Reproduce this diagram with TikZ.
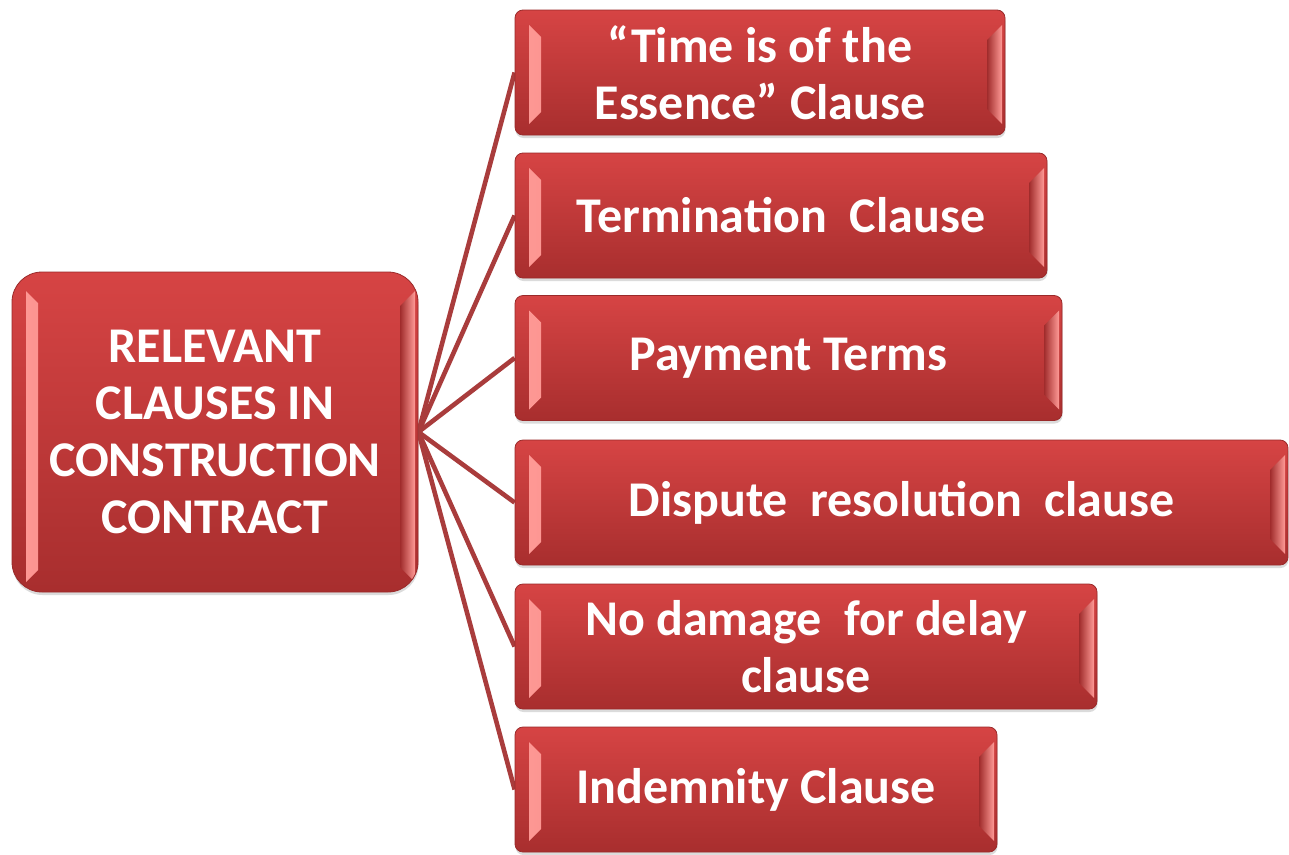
\documentclass[tikz,border=0pt]{standalone}
\usepackage{fontspec}
\setmainfont{Carlito}
\usetikzlibrary{calc,shadows,backgrounds}

\definecolor{boxtop}{HTML}{D64444}
\definecolor{boxbot}{HTML}{A82E2E}
\definecolor{boxedge}{HTML}{9A2A2A}
\definecolor{bevlight}{HTML}{FF9A96}
\definecolor{bevdark}{HTML}{A02C2C}
\definecolor{linkred}{HTML}{A93C3C}

% Bevel highlights on the left and right inner edges of a box.
% #1 left inset, #2 left width, #3 right inset, #4 right width, #5 top inset, #6 bottom inset
\newcommand\boxbevels[6]{%
  \path[sharp corners, left color=bevlight, right color=boxtop!70!boxbot]
    ($(path picture bounding box.north west)+(#1,-#5)$)
    -- ++(#2,-#2)
    -- ($(path picture bounding box.south west)+(#1+#2,#6+#2)$)
    -- ($(path picture bounding box.south west)+(#1,#6)$) -- cycle;
  \path[sharp corners, left color=bevdark, right color=bevlight]
    ($(path picture bounding box.north east)+(-#3-#4,-#5-#4)$)
    -- ($(path picture bounding box.north east)+(-#3,-#5)$)
    -- ($(path picture bounding box.south east)+(-#3,#6)$)
    -- ($(path picture bounding box.south east)+(-#3-#4,#6+#4)$) -- cycle;
}

\tikzset{
  redbox/.style={draw=boxedge, line width=0.8pt,
    top color=boxtop, bottom color=boxbot,
    text=white, align=center, inner sep=0pt,
    font=\bfseries\fontsize{50}{57}\selectfont,
    drop shadow={opacity=0.28, shadow xshift=0.5pt, shadow yshift=-3pt}},
  clausebox/.style={redbox, rounded corners=8pt, minimum height=125pt,
    path picture={\boxbevels{14pt}{12pt}{3pt}{15pt}{15pt}{11pt}}},
  hubbox/.style={redbox, rounded corners=30pt,
    path picture={\boxbevels{14pt}{12pt}{3pt}{15pt}{19pt}{10pt}}},
  link/.style={draw=linkred, line width=4.6pt}
}

\begin{document}
\begin{tikzpicture}[x=1pt,y=-1pt]
  \useasboundingbox (0,0) rectangle (1289,854);

  % central topic
  \node[hubbox, minimum width=406pt, minimum height=320pt] (hub) at (215,432)
    {RELEVANT\\CLAUSES IN\\CONSTRUCTION\\CONTRACT};

  % clauses
  \node[clausebox, minimum width=490pt] (c1) at (760,72.5)
    {“Time is of the\\Essence” Clause};
  \node[clausebox, minimum width=532pt] (c2) at (781,215.5)
    {Termination\ \ Clause};
  \node[clausebox, minimum width=547pt] (c3) at (788.5,358)
    {Payment Terms};
  \node[clausebox, minimum width=773pt] (c4) at (901.5,502.5)
    {Dispute\ \ resolution\ \ clause};
  \node[clausebox, minimum width=582pt] (c5) at (806,646.5)
    {No damage\ \ for delay\\clause};
  \node[clausebox, minimum width=482pt] (c6) at (756,789.5)
    {Indemnity Clause};

  % connectors fanning out from the central topic
  \begin{scope}[on background layer]
    \fill[white] (0,0) rectangle (1289,854);
    \foreach \c in {c1,c2,c3,c4,c5,c6}
      \draw[link] (hub.east) -- (\c.west);
  \end{scope}
\end{tikzpicture}
\end{document}
